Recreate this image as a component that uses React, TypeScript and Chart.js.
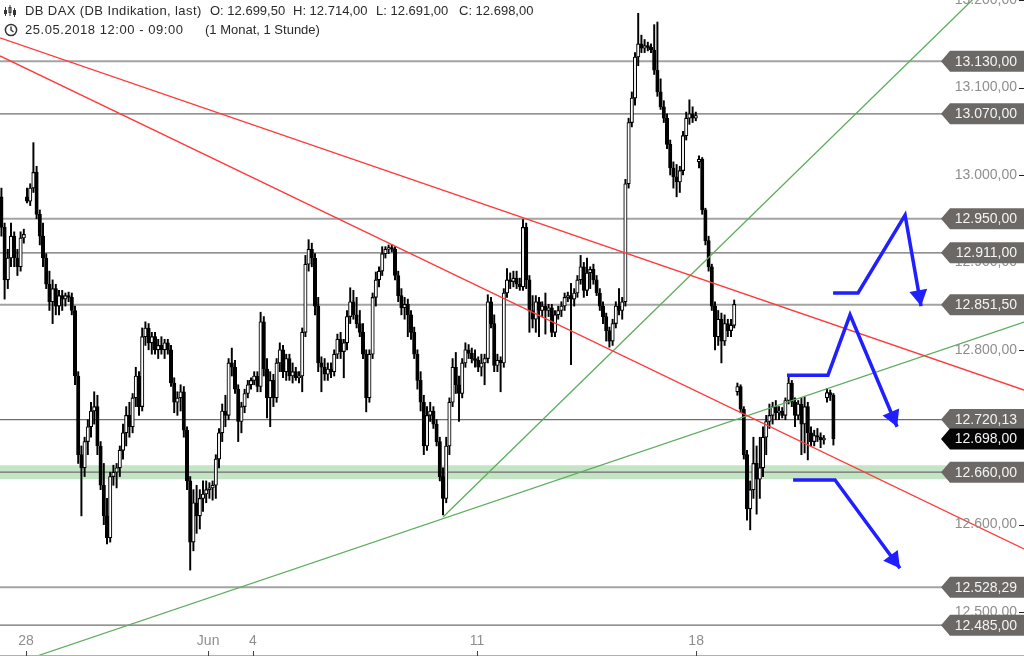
import { useEffect, useRef } from "react"
import { Chart, registerables } from "chart.js"

Chart.register(...registerables)

// hourly candles, one row per trading day (May 25 afternoon ... Jun 21 first hour)
const opens = [
  12975, 12940, 12880, 12905, 12930, 12905, 12895, 12928,
  12975, 12970, 12985, 13003, 12955, 12930, 12905, 12875, 12855, 12870, 12850, 12862, 12858, 12862,
  12860, 12845, 12770, 12680, 12665, 12695, 12712, 12730, 12735, 12690, 12645, 12610, 12585, 12655,
  12660, 12665, 12685, 12705, 12725, 12712, 12745, 12770, 12735, 12815, 12825, 12808, 12815, 12800,
  12805, 12800, 12808, 12800, 12762, 12740, 12745, 12752, 12708, 12650, 12580, 12625, 12610, 12630,
  12635, 12640, 12642, 12645, 12675, 12705, 12730, 12725, 12785, 12780, 12755, 12718, 12735, 12750,
  12760, 12765, 12770, 12758, 12832, 12778, 12745, 12765, 12745, 12785, 12800, 12775, 12790, 12770,
  12775, 12768, 12770, 12820, 12898, 12915, 12905, 12850, 12785, 12780, 12772, 12778, 12775, 12795,
  12812, 12798, 12808, 12838, 12855, 12840, 12830, 12820, 12795, 12745, 12795, 12860, 12880, 12890,
  12910, 12915, 12917, 12915, 12885, 12862, 12848, 12852, 12840, 12820, 12795, 12765, 12740, 12690,
  12725, 12730, 12715, 12695, 12655, 12630, 12690, 12740, 12780, 12760, 12750, 12785, 12800, 12796,
  12790, 12788, 12780, 12785, 12790, 12855, 12830, 12782, 12788, 12785, 12865, 12880, 12878, 12882,
  12875, 12872, 12940, 12880, 12845, 12835, 12855, 12845, 12850, 12845, 12848, 12820, 12840, 12845,
  12850, 12860, 12862, 12858, 12865, 12880, 12895, 12868, 12888, 12892, 12880, 12865, 12850, 12838,
  12822, 12810, 12830, 12850, 12845, 12855, 12990, 13060, 13088, 13135, 13150, 13145, 13148, 13146,
  13143, 13120, 13095, 13078, 13065, 13035, 13008, 12998, 12992, 13005, 13045, 13065, 13070, 13065,
  13015, 13018, 12960, 12925, 12895, 12850, 12815, 12835, 12810, 12830, 12822, 12828, 12752, 12758,
  12732, 12680, 12618, 12640, 12670, 12652, 12665, 12700, 12718, 12725, 12735, 12728, 12730, 12725,
  12742, 12762, 12740, 12725, 12738, 12715, 12735, 12705, 12695, 12702, 12700, 12697, 12745, 12751,
  12748,
]
const highs = [
  12985, 12945, 12915, 12945, 12935, 12915, 12935, 12938,
  12985, 12990, 13037, 13010, 12960, 12945, 12910, 12890, 12880, 12875, 12868, 12868, 12865, 12866,
  12865, 12850, 12775, 12690, 12700, 12720, 12740, 12752, 12748, 12695, 12670, 12630, 12660, 12668,
  12670, 12690, 12715, 12735, 12740, 12750, 12780, 12775, 12825, 12832, 12830, 12820, 12820, 12812,
  12815, 12812, 12812, 12805, 12768, 12752, 12760, 12758, 12712, 12655, 12640, 12645, 12640, 12650,
  12650, 12648, 12650, 12680, 12710, 12738, 12748, 12790, 12802, 12788, 12760, 12740, 12755, 12765,
  12768, 12775, 12775, 12843, 12838, 12790, 12775, 12772, 12790, 12808, 12805, 12795, 12795, 12785,
  12780, 12775, 12825, 12908, 12926, 12922, 12910, 12860, 12792, 12790, 12785, 12785, 12800, 12818,
  12820, 12812, 12845, 12871, 12868, 12860, 12845, 12830, 12800, 12800, 12865, 12889, 12895, 12918,
  12918, 12920, 12920, 12918, 12890, 12870, 12860, 12858, 12845, 12826, 12800, 12775, 12748, 12735,
  12740, 12735, 12720, 12700, 12665, 12700, 12745, 12790, 12797, 12770, 12790, 12808, 12806, 12802,
  12800, 12792, 12795, 12795, 12863, 12860, 12840, 12795, 12792, 12870, 12893, 12888, 12890, 12890,
  12882, 12949, 12945, 12885, 12862, 12862, 12860, 12855, 12865, 12852, 12852, 12845, 12850, 12855,
  12865, 12866, 12876, 12870, 12885, 12908, 12900, 12905, 12895, 12898, 12885, 12870, 12855, 12842,
  12826, 12835, 12855, 12870, 12860, 12995, 13065, 13095, 13140, 13185, 13160, 13155, 13152, 13150,
  13172, 13175, 13110, 13085, 13070, 13040, 13015, 13012, 13010, 13050, 13072, 13086, 13078, 13072,
  13022, 13020, 12962, 12930, 12898, 12855, 12845, 12842, 12840, 12835, 12835, 12857, 12762, 12760,
  12735, 12685, 12650, 12700, 12690, 12700, 12712, 12725, 12738, 12740, 12742, 12735, 12734, 12745,
  12769, 12765, 12745, 12742, 12745, 12746, 12740, 12712, 12708, 12710, 12705, 12702, 12756, 12754,
  12750,
]
const lows = [
  12930, 12858, 12870, 12895, 12895, 12885, 12890, 12922,
  12968, 12965, 12980, 12950, 12920, 12895, 12870, 12845, 12830, 12840, 12840, 12845, 12850, 12855,
  12840, 12760, 12670, 12610, 12655, 12680, 12700, 12715, 12680, 12640, 12600, 12578, 12580, 12645,
  12642, 12655, 12675, 12690, 12700, 12705, 12735, 12725, 12730, 12805, 12800, 12795, 12795, 12790,
  12795, 12790, 12795, 12758, 12728, 12725, 12730, 12700, 12640, 12548, 12570, 12590, 12595, 12615,
  12625, 12630, 12628, 12630, 12665, 12695, 12712, 12720, 12770, 12750, 12695, 12705, 12728, 12745,
  12755, 12760, 12752, 12752, 12770, 12722, 12712, 12735, 12740, 12775, 12768, 12765, 12765, 12762,
  12765, 12762, 12752, 12815, 12890, 12895, 12840, 12775, 12752, 12765, 12765, 12768, 12770, 12790,
  12790, 12768, 12800, 12830, 12835, 12825, 12815, 12790, 12729, 12740, 12790, 12850, 12872, 12885,
  12905, 12910, 12912, 12880, 12855, 12840, 12835, 12815, 12812, 12790, 12755, 12730, 12680, 12685,
  12718, 12710, 12690, 12650, 12611, 12625, 12680, 12735, 12750, 12718, 12745, 12780, 12790, 12785,
  12780, 12775, 12770, 12760, 12785, 12825, 12775, 12775, 12752, 12780, 12860, 12870, 12872, 12870,
  12868, 12868, 12870, 12820, 12825, 12820, 12815, 12838, 12818, 12838, 12815, 12815, 12835, 12838,
  12845, 12855, 12783, 12850, 12860, 12875, 12860, 12862, 12870, 12875, 12862, 12845, 12830, 12810,
  12803, 12805, 12825, 12840, 12835, 12850, 12985, 13055, 13080, 13125, 13140, 13140, 13142, 13140,
  13115, 13090, 13075, 13060, 13030, 13000, 12985, 12975, 12980, 13000, 13040, 13058, 13060, 13062,
  13008, 12955, 12920, 12890, 12845, 12800, 12805, 12785, 12805, 12815, 12815, 12825, 12748, 12728,
  12675, 12605, 12594, 12630, 12612, 12630, 12655, 12680, 12710, 12715, 12720, 12720, 12722, 12720,
  12738, 12735, 12712, 12720, 12680, 12682, 12674, 12690, 12690, 12695, 12688, 12692, 12740, 12742,
  12691,
]
const closes = [
  12940, 12880, 12905, 12930, 12905, 12895, 12928, 12932,
  12970, 12985, 13003, 12955, 12930, 12905, 12875, 12855, 12870, 12850, 12862, 12858, 12862, 12860,
  12845, 12770, 12680, 12665, 12695, 12712, 12730, 12735, 12690, 12645, 12610, 12585, 12655, 12660,
  12665, 12685, 12705, 12725, 12712, 12745, 12770, 12735, 12815, 12825, 12808, 12815, 12800, 12805,
  12800, 12808, 12800, 12762, 12740, 12745, 12752, 12708, 12650, 12580, 12625, 12610, 12630, 12635,
  12640, 12642, 12645, 12675, 12705, 12730, 12725, 12785, 12780, 12755, 12718, 12735, 12750, 12760,
  12765, 12770, 12758, 12832, 12778, 12745, 12765, 12745, 12785, 12800, 12775, 12790, 12770, 12775,
  12768, 12770, 12820, 12898, 12915, 12905, 12850, 12785, 12780, 12772, 12778, 12775, 12795, 12812,
  12798, 12808, 12838, 12855, 12840, 12830, 12820, 12795, 12745, 12795, 12860, 12880, 12890, 12910,
  12915, 12917, 12915, 12885, 12862, 12848, 12852, 12840, 12820, 12795, 12765, 12740, 12690, 12725,
  12730, 12715, 12695, 12655, 12630, 12690, 12740, 12780, 12760, 12750, 12785, 12800, 12796, 12790,
  12788, 12780, 12785, 12790, 12855, 12830, 12782, 12788, 12785, 12865, 12880, 12878, 12882, 12875,
  12872, 12940, 12880, 12845, 12835, 12855, 12845, 12850, 12845, 12848, 12820, 12840, 12845, 12850,
  12860, 12862, 12858, 12865, 12880, 12895, 12868, 12888, 12892, 12880, 12865, 12850, 12838, 12822,
  12810, 12830, 12850, 12845, 12855, 12990, 13060, 13088, 13135, 13150, 13145, 13148, 13146, 13143,
  13120, 13095, 13078, 13065, 13035, 13008, 12998, 12992, 13005, 13045, 13065, 13070, 13065, 13068,
  13018, 12960, 12925, 12895, 12850, 12815, 12835, 12810, 12830, 12822, 12828, 12852, 12758, 12732,
  12680, 12618, 12640, 12670, 12652, 12665, 12700, 12718, 12725, 12735, 12728, 12730, 12725, 12742,
  12762, 12740, 12725, 12738, 12715, 12735, 12705, 12695, 12702, 12700, 12697, 12699, 12751, 12748,
  12698,
]

// x axis ticks (bar index) and labels
const xTickIdx = [7.7, 64.6, 78.6, 148.6, 217.1]
const xTickLabels = ["28", "Jun", "4", "11", "18"]
const yTicks = [13200, 13100, 13000, 12900, 12800, 12700, 12600, 12500]

// horizontal levels
const levels = [13130, 13070, 12950, 12911, 12851.5, 12720.13, 12660, 12528.29, 12485]
const levelDark = [false, true, false, true, false, true, true, false, true]
const lastPrice = 12698
const bandLow = 12652
const bandHigh = 12668

// trend lines: [x0, x1], [y0, y1]
const red1X = [-0.44, 319.56]
const red1Y = [13156.8, 12754]
const red2X = [-0.44, 319.56]
const red2Y = [13136.2, 12572.1]
const green1X = [138, 319.56]
const green1Y = [12608.7, 13258]
const green2X = [11.1, 319.56]
const green2Y = [12449.7, 12831.8]

// blue arrows
const arrowAX = [259.9, 267.7, 282.4, 287.4]
const arrowAY = [12865, 12865, 12954, 12850]
const arrowBX = [245.5, 258.3, 265.2, 279.9]
const arrowBY = [12771, 12771, 12840, 12712]
const arrowCX = [247.4, 260.5, 280.8]
const arrowCY = [12651, 12651, 12550]

const X_MIN = -0.44
const X_MAX = 319.56
const Y_MIN = 12449.7
const Y_MAX = 13200.2

const FONT = '"Liberation Sans", Arial, sans-serif'

const fmt = (v: number) => {
  const [int, dec] = v.toFixed(2).split(".")
  return int.replace(/\B(?=(\d{3})+(?!\d))/g, ".") + "," + dec
}

const pts = (xs: number[], ys: number[]) => xs.map((x, i) => ({ x, y: ys[i] }))

const overlayPlugin = {
  id: "overlay",
  afterDatasetsDraw(chart: any) {
    const { ctx, scales } = chart
    const xs = scales.x
    const ys = scales.y
    const right = chart.chartArea.right
    const bottom = chart.chartArea.bottom
    ctx.save()

    // arrow heads
    chart.data.datasets.forEach((ds: any, di: number) => {
      if (!ds.arrow) return
      const meta = chart.getDatasetMeta(di)
      const n = meta.data.length
      const p1 = meta.data[n - 2]
      const p2 = meta.data[n - 1]
      const ang = Math.atan2(p2.y - p1.y, p2.x - p1.x)
      const len = 16
      const half = 9
      ctx.fillStyle = ds.borderColor
      ctx.beginPath()
      ctx.moveTo(p2.x, p2.y)
      ctx.lineTo(p2.x - len * Math.cos(ang) + half * Math.sin(ang), p2.y - len * Math.sin(ang) - half * Math.cos(ang))
      ctx.lineTo(p2.x - len * Math.cos(ang) - half * Math.sin(ang), p2.y - len * Math.sin(ang) + half * Math.cos(ang))
      ctx.closePath()
      ctx.fill()
    })

    // y tick labels
    ctx.font = `14px ${FONT}`
    ctx.textBaseline = "middle"
    ctx.textAlign = "right"
    yTicks.forEach((v) => {
      const py = ys.getPixelForValue(v)
      ctx.fillStyle = "#8e8e8e"
      ctx.fillText(fmt(v), right - 7, py)
      ctx.fillStyle = "#222"
      ctx.fillRect(right - 5, Math.round(py), 5, 1)
    })

    // level boxes
    const box = (v: number, color: string) => {
      const py = ys.getPixelForValue(v)
      const h = 10.5
      ctx.fillStyle = color
      ctx.beginPath()
      ctx.moveTo(right - 83, py)
      ctx.lineTo(right - 74, py - h)
      ctx.lineTo(right, py - h)
      ctx.lineTo(right, py + h)
      ctx.lineTo(right - 74, py + h)
      ctx.closePath()
      ctx.fill()
      ctx.fillStyle = "#f4f4f4"
      ctx.fillText(fmt(v), right - 7, py + 0.5)
    }
    levels.forEach((v) => box(v, "#6c6865"))
    box(lastPrice, "#050505")

    // x axis
    ctx.fillStyle = "#b0b0b0"
    ctx.fillRect(0, bottom - 1, right, 1)
    ctx.textAlign = "center"
    xTickIdx.forEach((v, i) => {
      const px = xs.getPixelForValue(v)
      ctx.fillStyle = "#8e8e8e"
      ctx.fillText(xTickLabels[i], px, bottom - 15)
      ctx.fillStyle = "#444"
      ctx.fillRect(Math.round(px), bottom - 5, 1, 5)
    })
    ctx.restore()
  },
}

function CandleChart() {
  const chartRef = useRef<HTMLCanvasElement>(null)
  const chartInstance = useRef<Chart | null>(null)

  useEffect(() => {
    if (!chartRef.current) return
    document.body.style.margin = "0"
    document.body.style.overflow = "hidden"

    const idx = opens.map((_, i) => i)
    const wickData = idx.map((i) => ({ x: i, y: [lows[i], highs[i]] }))
    const bodyData = idx.map((i) => ({ x: i, y: [opens[i], closes[i]] }))
    const bodyColors = idx.map((i) => (closes[i] >= opens[i] ? "#ffffff" : "#000000"))

    const line = (data: any[], color: string, width: number, order: number, extra: any = {}) => ({
      type: "line",
      data,
      borderColor: color,
      borderWidth: width,
      pointRadius: 0,
      tension: 0,
      fill: false,
      order,
      ...extra,
    })

    const levelSets = levels.map((v, i) =>
      line(pts([X_MIN, 300], [v, v]), levelDark[i] ? "#6e6e6e" : "#a3a3a3", levelDark[i] ? 1.2 : 2, 9),
    )

    const ctx = chartRef.current.getContext("2d")
    if (!ctx) return

    chartInstance.current = new Chart(ctx, {
      type: "bar",
      data: {
        datasets: [
          line(pts([X_MIN, 300], [bandHigh, bandHigh]), "rgba(0,0,0,0)", 0, 10, {
            fill: { value: bandLow },
            backgroundColor: "rgba(140, 200, 140, 0.5)",
          }),
          ...levelSets,
          {
            type: "bar",
            data: wickData,
            backgroundColor: "#000",
            barThickness: 1.3,
            grouped: false,
            order: 5,
          },
          {
            type: "bar",
            data: bodyData,
            backgroundColor: bodyColors,
            borderColor: "#000",
            borderWidth: 1.1,
            borderSkipped: false,
            barThickness: 3.4,
            minBarLength: 1.2,
            grouped: false,
            order: 4,
          },
          line(pts(red1X, red1Y), "#ff3b3b", 1.3, 2),
          line(pts(red2X, red2Y), "#ff3b3b", 1.3, 2),
          line(pts(green1X, green1Y), "#5cad5c", 1.3, 2),
          line(pts(green2X, green2Y), "#5cad5c", 1.3, 2),
          line(pts(arrowAX, arrowAY), "#1f1fff", 3.5, 1, { arrow: true }),
          line(pts(arrowBX, arrowBY), "#1f1fff", 3.5, 1, { arrow: true }),
          line(pts(arrowCX, arrowCY), "#1f1fff", 3.5, 1, { arrow: true }),
        ] as any,
      },
      options: {
        responsive: true,
        maintainAspectRatio: false,
        animation: false,
        events: [],
        layout: { padding: 0 },
        plugins: {
          legend: { display: false },
          tooltip: { enabled: false },
        },
        scales: {
          x: { type: "linear", min: X_MIN, max: X_MAX, display: false, offset: false },
          y: { type: "linear", min: Y_MIN, max: Y_MAX, display: false },
        },
      },
      plugins: [overlayPlugin],
    })

    return () => {
      if (chartInstance.current) {
        chartInstance.current.destroy()
      }
    }
  }, [])

  const head = { position: "absolute" as const, font: `13px ${FONT}`, color: "#2a2a2a", whiteSpace: "pre" as const }

  return (
    <div style={{ position: "relative", width: 1024, height: 656, background: "#fff" }}>
      <canvas ref={chartRef}></canvas>
      <svg style={{ position: "absolute", left: 3, top: 4 }} width="14" height="14" viewBox="0 0 14 14">
        <g stroke="#333" strokeWidth="1" fill="none">
          <line x1="2.5" y1="3" x2="2.5" y2="12" />
          <rect x="1.5" y="6.5" width="2" height="3" fill="#333" />
          <line x1="7" y1="1" x2="7" y2="12" />
          <rect x="6" y="3.5" width="2" height="5" />
          <line x1="11.5" y1="4" x2="11.5" y2="13" />
          <rect x="10.5" y="6.5" width="2" height="4" fill="#333" />
        </g>
      </svg>
      <svg style={{ position: "absolute", left: 4, top: 23 }} width="14" height="14" viewBox="0 0 14 14">
        <circle cx="7" cy="7" r="5.6" stroke="#333" strokeWidth="1.5" fill="none" />
        <polyline points="7,3.5 7,7 9.5,9" stroke="#333" strokeWidth="1.4" fill="none" />
      </svg>
      <div style={{ ...head, left: 25, top: 3, letterSpacing: "0.4px" }}>DB DAX (DB Indikation, last)</div>
      <div style={{ ...head, left: 210, top: 3 }}>O: 12.699,50</div>
      <div style={{ ...head, left: 293, top: 3 }}>H: 12.714,00</div>
      <div style={{ ...head, left: 376, top: 3 }}>L: 12.691,00</div>
      <div style={{ ...head, left: 459, top: 3 }}>C: 12.698,00</div>
      <div style={{ ...head, left: 25, top: 22, letterSpacing: "0.55px" }}>25.05.2018 12:00 - 09:00</div>
      <div style={{ ...head, left: 205, top: 22 }}>(1 Monat, 1 Stunde)</div>
    </div>
  )
}

export default function App() {
  return <CandleChart />
}
